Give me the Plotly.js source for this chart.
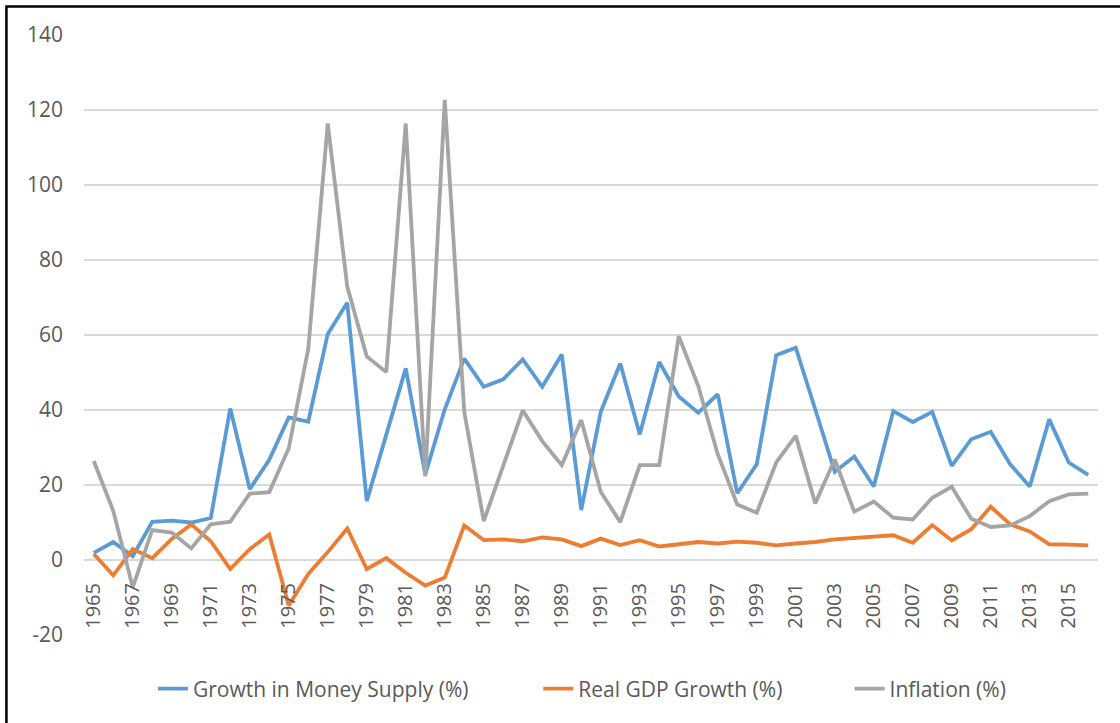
<!DOCTYPE html>
<html>
<head>
<meta charset="utf-8">
<script src="https://cdn.plot.ly/plotly-3.0.1.min.js"></script>
<style>
  html, body { margin: 0; padding: 0; background: #fff; }
  #chart { width: 1120px; height: 723px; }
</style>
</head>
<body>
<div id="chart"></div>
<script>
// years on the category axis
const years = [1965, 1966, 1967, 1968, 1969, 1970, 1971, 1972, 1973, 1974,
  1975, 1976, 1977, 1978, 1979, 1980, 1981, 1982, 1983, 1984,
  1985, 1986, 1987, 1988, 1989, 1990, 1991, 1992, 1993, 1994,
  1995, 1996, 1997, 1998, 1999, 2000, 2001, 2002, 2003, 2004,
  2005, 2006, 2007, 2008, 2009, 2010, 2011, 2012, 2013, 2014,
  2015, 2016];

// Growth in Money Supply (%)
const moneySupply = [1.9, 4.8, 1.0, 10.2, 10.5, 10.0, 11.2, 40.4, 18.9, 26.7,
  38.0, 36.9, 60.3, 68.6, 15.7, 33.5, 51.1, 22.8, 40.2, 53.7,
  46.2, 48.2, 53.5, 46.2, 54.8, 13.3, 39.5, 52.4, 33.5, 52.8,
  43.6, 39.3, 44.2, 17.8, 25.5, 54.6, 56.6, 40.2, 23.5, 27.6,
  19.6, 39.7, 36.8, 39.5, 25.1, 32.2, 34.2, 25.5, 19.6, 37.5,
  26.0, 22.7];

// Real GDP Growth (%)
const gdpGrowth = [1.6, -4.1, 2.9, 0.5, 5.6, 9.5, 5.0, -2.4, 2.9, 6.8,
  -12.1, -3.7, 2.1, 8.4, -2.4, 0.5, -3.4, -6.8, -4.7, 9.2,
  5.3, 5.5, 5.0, 6.0, 5.5, 3.7, 5.7, 4.0, 5.3, 3.6,
  4.2, 4.8, 4.4, 4.9, 4.6, 3.9, 4.4, 4.8, 5.5, 5.9,
  6.1, 6.6, 4.6, 9.3, 5.2, 8.2, 14.2, 9.5, 7.6, 4.2,
  4.1, 3.9];

// Inflation (%)
const inflation = [26.4, 13.1, -7.3, 8.0, 7.3, 3.1, 9.5, 10.2, 17.7, 18.1,
  29.8, 56.3, 116.4, 72.9, 54.3, 50.1, 116.4, 22.3, 122.7, 39.5,
  10.4, 25.2, 39.9, 31.7, 25.3, 37.3, 18.2, 10.1, 25.3, 25.3,
  59.7, 46.4, 28.2, 14.8, 12.6, 26.0, 33.1, 15.1, 26.8, 12.9,
  15.6, 11.3, 10.8, 16.6, 19.5, 11.0, 8.8, 9.2, 11.7, 15.7,
  17.5, 17.7];

const seriesNames = ['Growth in Money Supply (%)', 'Real GDP Growth (%)', 'Inflation (%)'];
const seriesColors = ['#5B9BD5', '#ED7D31', '#A5A5A5'];
const yTicks = [-20, 0, 20, 40, 60, 80, 100, 120, 140];
const yTickText = ['-20', '0', '20', '40', '60', '80', '100', '120', '140'];
const xTicks = years.filter((y, i) => i % 2 === 0);

const FONT = '"Open Sans", "Noto Sans", sans-serif';
const TXT = '#595959';

// each series gets its own legend box so the entries sit where Excel put them
const legendX = [0.068, 0.448, 0.755];
const legendIds = ['legend', 'legend2', 'legend3'];

const data = [moneySupply, gdpGrowth, inflation].map((y, i) => ({
  x: years, y, name: seriesNames[i], type: 'scatter', mode: 'lines',
  line: { color: seriesColors[i], width: 3.8 }, legend: legendIds[i]
}));

const legendBox = x => ({
  orientation: 'h', x, xanchor: 'left', y: -0.09, yanchor: 'middle',
  font: { family: FONT, size: 21, color: TXT },
  itemwidth: 30, bgcolor: 'rgba(0,0,0,0)'
});

const layout = {
  width: 1120, height: 723,
  margin: { l: 84, r: 22, t: 35, b: 88 },
  paper_bgcolor: '#fff', plot_bgcolor: '#fff',
  font: { family: FONT, size: 21, color: TXT },
  showlegend: true,
  xaxis: {
    range: [1964.5, 2016.5],
    anchor: 'free', position: 0.125,
    tickmode: 'array', tickvals: xTicks, ticktext: xTicks.map(String),
    tickangle: -90, ticks: '', ticklabelstandoff: 18,
    showgrid: false, showline: false, zeroline: false,
    tickfont: { family: FONT, size: 20, color: TXT }
  },
  yaxis: {
    range: [-20, 140],
    tickmode: 'array', tickvals: yTicks, ticktext: yTickText,
    showgrid: true, gridcolor: '#D9D9D9', gridwidth: 1.3,
    zeroline: true, zerolinecolor: '#D9D9D9', zerolinewidth: 1.3,
    showline: false, ticks: '', ticklabelstandoff: 20,
    tickfont: { family: FONT, size: 21, color: TXT }
  },
  legend: legendBox(legendX[0]),
  legend2: legendBox(legendX[1]),
  legend3: legendBox(legendX[2]),
  shapes: [
    // chart frame, visible only on top and left
    { type: 'rect', xref: 'paper', yref: 'paper',
      x0: -0.0765, x1: 1.2, y0: -0.3, y1: 1.0475,
      line: { color: '#000', width: 2.5 }, layer: 'above' }
  ]
};

Plotly.newPlot('chart', data, layout, { displayModeBar: false, staticPlot: true });
</script>
</body>
</html>
